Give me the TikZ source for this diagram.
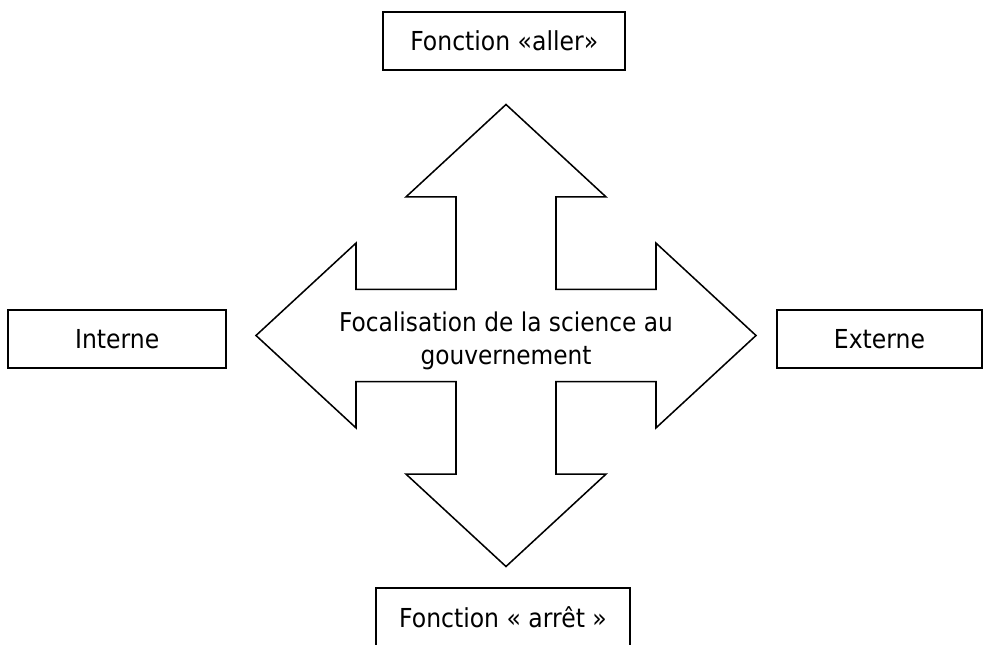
\documentclass[tikz,border=0pt]{standalone}
\usepackage{fontspec}
\setmainfont{DejaVu Sans}[FakeStretch=0.9]
\begin{document}
\begin{tikzpicture}[x=0.75pt, y=0.75pt,
    labelbox/.style={draw=black, line width=1.5pt, inner sep=0pt, font=\fontsize{19.6}{24.5}\selectfont},
    crossline/.style={draw=black, line width=1.15pt, line join=miter}]
    \useasboundingbox (0,0) rectangle (983,644);
    \clip (0,0) rectangle (983,644);
    % the four-way arrow
    \begin{scope}[shift={(506,308.5)}, x=37.5pt, y=34.65pt]
        \draw[crossline] (0,5) -- (2,3) -- (1,3) -- (1,1) -- (3,1) -- (3,2) -- (5,0)
            -- (3,-2) -- (3,-1) -- (1,-1) -- (1,-3) -- (2,-3) -- (0,-5) -- (-2,-3)
            -- (-1,-3) -- (-1,-1) -- (-3,-1) -- (-3,-2) -- (-5,0) -- (-3,2) -- (-3,1)
            -- (-1,1) -- (-1,3) -- (-2,3) -- cycle;
    \end{scope}
    \node[align=center, inner sep=0pt, font=\fontsize{19.4}{24.5}\selectfont] (focus) at (506,303.2)
        {Focalisation de la science au\\gouvernement};
    % labels round the arrow
    \node[labelbox, minimum width=181.3pt, minimum height=43.7pt] (aller) at (504.2,603.15) {Fonction «aller»};
    \node[labelbox, minimum width=163.3pt, minimum height=43.3pt] (interne) at (117.2,305.15) {Interne};
    \node[labelbox, minimum width=153.8pt, minimum height=43.3pt] (externe) at (879.5,305.15) {Externe};
    \node[labelbox, minimum width=190.5pt, minimum height=43.7pt] (arret) at (503,26.8) {Fonction « arrêt »};
\end{tikzpicture}
\end{document}
